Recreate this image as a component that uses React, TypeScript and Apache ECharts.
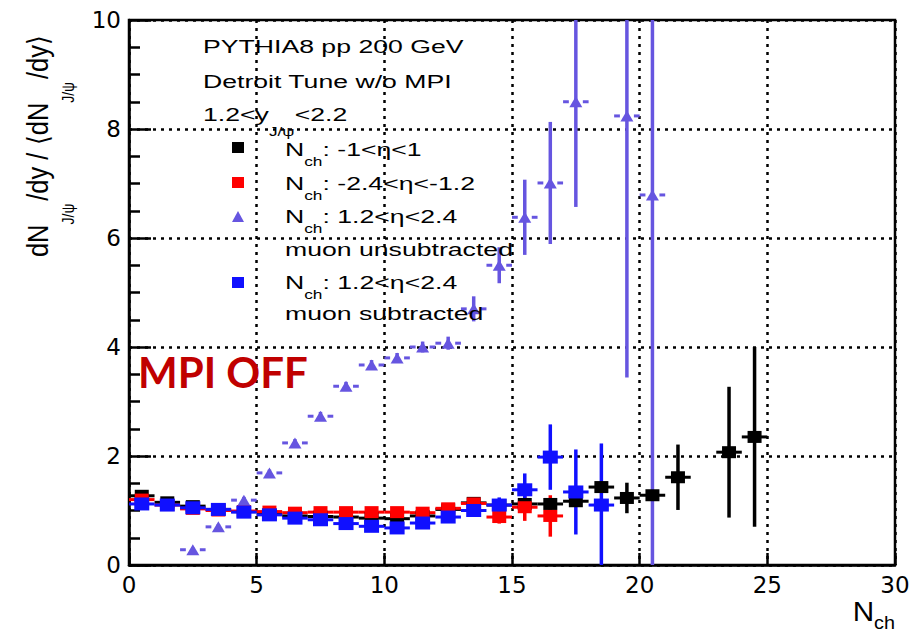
import React, { useEffect, useRef } from 'react';
import * as echarts from 'echarts';

// ---- Data ----
const blackNch = [0.5, 1.5, 2.5, 3.5, 4.5, 5.5, 6.5, 7.5, 8.5, 9.5, 10.5, 11.5, 12.5, 13.5, 14.5, 15.5, 16.5, 17.5, 18.5, 19.5, 20.5, 21.5, 23.5, 24.5];
const blackRatio = [1.27, 1.15, 1.08, 1.02, 0.98, 0.93, 0.9, 0.89, 0.88, 0.86, 0.85, 0.9, 1.02, 1.14, 1.1, 1.12, 1.12, 1.17, 1.43, 1.23, 1.28, 1.61, 2.07, 2.35];
const blackErr = [0.05, 0.04, 0.04, 0.04, 0.04, 0.04, 0.04, 0.04, 0.04, 0.04, 0.04, 0.05, 0.05, 0.06, 0.07, 0.09, 0.11, 0.1, 0.1, 0.28, 0.1, 0.6, 1.2, 1.65];

const redNch = [0.5, 1.5, 2.5, 3.5, 4.5, 5.5, 6.5, 7.5, 8.5, 9.5, 10.5, 11.5, 12.5, 13.5, 14.5, 15.5, 16.5];
const redRatio = [1.2, 1.1, 1.03, 1.0, 0.99, 0.98, 0.96, 0.97, 0.97, 0.97, 0.97, 0.96, 1.04, 1.13, 0.88, 1.06, 0.9];
const redErr = [0.04, 0.04, 0.04, 0.04, 0.04, 0.04, 0.04, 0.04, 0.04, 0.04, 0.04, 0.05, 0.05, 0.06, 0.12, 0.25, 0.38];

const triNch = [2.5, 3.5, 4.5, 5.5, 6.5, 7.5, 8.5, 9.5, 10.5, 11.5, 12.5, 13.5, 14.5, 15.5, 16.5, 17.5, 19.5, 20.5];
const triRatio = [0.28, 0.7, 1.19, 1.69, 2.24, 2.73, 3.28, 3.67, 3.8, 4.0, 4.07, 4.7, 5.5, 6.38, 7.01, 8.5, 8.24, 6.79];
const triErr = [0.04, 0.05, 0.06, 0.06, 0.07, 0.08, 0.08, 0.09, 0.09, 0.1, 0.12, 0.23, 0.33, 0.69, 1.12, 1.93, 4.8, 7.5];

const blueNch = [0.5, 1.5, 2.5, 3.5, 4.5, 5.5, 6.5, 7.5, 8.5, 9.5, 10.5, 11.5, 12.5, 13.5, 14.5, 15.5, 16.5, 17.5, 18.5];
const blueRatio = [1.12, 1.1, 1.05, 1.02, 0.97, 0.92, 0.86, 0.83, 0.76, 0.71, 0.68, 0.77, 0.88, 1.0, 1.1, 1.38, 1.98, 1.34, 1.1];
const blueErr = [0.04, 0.04, 0.04, 0.04, 0.04, 0.04, 0.04, 0.04, 0.04, 0.04, 0.04, 0.05, 0.05, 0.06, 0.14, 0.3, 0.6, 0.78, 1.13];

const xTicks = { min: 0, max: 30, interval: 5 };
const yTicks = { min: 0, max: 10, interval: 2 };

const BLACK = '#000000';
const RED = '#ff0000';
const TRI = '#6655e0';
const BLUE = '#1010ff';

const FONT = 'Liberation Sans, Arial, Helvetica, sans-serif';

function zip(x: number[], y: number[], e: number[]) {
  return x.map((v, i) => [v, y[i], e[i]]);
}

function errorSeries(name: string, data: number[][], color: string, gapPx: number) {
  return {
    name,
    type: 'custom',
    clip: true,
    silent: true,
    data,
    encode: { x: 0, y: 1 },
    renderItem: (params: any, api: any) => {
      const x = api.value(0);
      const y = api.value(1);
      const e = api.value(2);
      const c = api.coord([x, y]);
      const lo = api.coord([x, y - e]);
      const hi = api.coord([x, y + e]);
      const l = api.coord([x - 0.5, y]);
      const r = api.coord([x + 0.5, y]);
      const hs = { stroke: color, lineWidth: 3, fill: 'none' };
      const vs = { stroke: color, lineWidth: 3.5, fill: 'none' };
      const children: any[] = [
        { type: 'line', shape: { x1: c[0], y1: lo[1], x2: c[0], y2: hi[1] }, style: vs },
      ];
      if (gapPx > 0) {
        children.push({ type: 'line', shape: { x1: l[0], y1: c[1], x2: c[0] - gapPx, y2: c[1] }, style: hs });
        children.push({ type: 'line', shape: { x1: c[0] + gapPx, y1: c[1], x2: r[0], y2: c[1] }, style: hs });
      } else {
        children.push({ type: 'line', shape: { x1: l[0], y1: c[1], x2: r[0], y2: c[1] }, style: hs });
      }
      return { type: 'group', children };
    },
    z: 3,
  };
}

function markerSeries(name: string, data: number[][], color: string, symbol: string, size: number[]) {
  return {
    name,
    type: 'scatter',
    data: data.map((d) => [d[0], d[1]]),
    symbol,
    symbolSize: size,
    itemStyle: { color, opacity: 1 },
    silent: true,
    z: 4,
  };
}

const legendScale = 1.44;
const txt = { fontSize: 18.5, fontFamily: FONT, fill: '#000' };
const richLegend = {
  n: { fontSize: 18.5, fontFamily: FONT, color: '#000', lineHeight: 36 },
  s: { fontSize: 12, fontFamily: FONT, color: '#000', verticalAlign: 'bottom' },
};

function legendText(text: string, x: number, y: number, rich?: any) {
  return {
    type: 'text',
    x,
    y,
    scaleX: legendScale,
    z: 10,
    style: { ...txt, text, textAlign: 'left', textVerticalAlign: 'middle', rich },
  };
}

const option: any = {
  animation: false,
  grid: { left: 129, right: 19, top: 20, bottom: 70, show: true, borderColor: '#000', borderWidth: 2.5, containLabel: false },
  xAxis: {
    type: 'value',
    min: xTicks.min,
    max: xTicks.max,
    interval: xTicks.interval,
    axisLine: { show: true, lineStyle: { color: '#000', width: 2.5 } },
    axisTick: { show: true, inside: true, length: 12, lineStyle: { color: '#000', width: 2.5 } },
    axisLabel: { color: '#000', fontFamily: 'DejaVu Sans', fontSize: 23, margin: 8 },
    splitLine: { show: true, lineStyle: { color: '#000', width: 2.5, type: [3, 5] } },
  },
  yAxis: {
    type: 'value',
    min: yTicks.min,
    max: yTicks.max,
    interval: yTicks.interval,
    axisLine: { show: true, lineStyle: { color: '#000', width: 2.5 } },
    axisTick: { show: true, inside: true, length: 22, lineStyle: { color: '#000', width: 2.5 } },
    minorTick: { show: true, splitNumber: 4, length: 11, lineStyle: { color: '#000', width: 2.5 } },
    axisLabel: { color: '#000', fontFamily: 'DejaVu Sans', fontSize: 23, margin: 8 },
    splitLine: { show: true, lineStyle: { color: '#000', width: 2.5, type: [3, 5] } },
  },
  series: [
    errorSeries('black-err', zip(blackNch, blackRatio, blackErr), BLACK, 0),
    markerSeries('N_ch: -1<η<1', zip(blackNch, blackRatio, blackErr), BLACK, 'rect', [14, 12]),
    errorSeries('red-err', zip(redNch, redRatio, redErr), RED, 0),
    markerSeries('N_ch: -2.4<η<-1.2', zip(redNch, redRatio, redErr), RED, 'rect', [14, 12]),
    errorSeries('tri-err', zip(triNch, triRatio, triErr), TRI, 7),
    markerSeries('N_ch: 1.2<η<2.4 muon unsubtracted', zip(triNch, triRatio, triErr), TRI, 'triangle', [13, 11]),
    errorSeries('blue-err', zip(blueNch, blueRatio, blueErr), BLUE, 0),
    markerSeries('N_ch: 1.2<η<2.4 muon subtracted', zip(blueNch, blueRatio, blueErr), BLUE, 'rect', [15, 13]),
  ],
  graphic: [
    // y axis title
    {
      type: 'text',
      x: 38,
      y: 146,
      rotation: Math.PI / 2,
      scaleY: 1.15,
      z: 10,
      style: {
        text: '{n|dN}{s|J/ψ}{n|/dy / ⟨dN}{s|J/ψ}{n|/dy⟩}',
        textAlign: 'center',
        textVerticalAlign: 'middle',
        rich: {
          n: { fontSize: 25.5, fontFamily: FONT, color: '#000', lineHeight: 66 },
          s: { fontSize: 14, fontFamily: FONT, color: '#000', verticalAlign: 'bottom', padding: [0, 3, 0, 0] },
        },
      },
    },
    // x axis title
    {
      type: 'text',
      x: 895,
      y: 611,
      scaleX: 1.1,
      z: 10,
      style: {
        text: '{n|N}{s|ch}',
        textAlign: 'right',
        textVerticalAlign: 'middle',
        rich: {
          n: { fontSize: 27, fontFamily: FONT, color: '#000', lineHeight: 42 },
          s: { fontSize: 18, fontFamily: FONT, color: '#000', verticalAlign: 'bottom' },
        },
      },
    },
    legendText('PYTHIA8 pp 200 GeV', 203, 47),
    legendText('Detroit Tune w/o MPI', 203, 82),
    legendText('{n|1.2<y}{s|J/ψ}{n|<2.2}', 203, 115, {
      n: { fontSize: 18.5, fontFamily: FONT, color: '#000', lineHeight: 46 },
      s: { fontSize: 12, fontFamily: FONT, color: '#000', verticalAlign: 'bottom' },
    }),
    { type: 'rect', z: 10, shape: { x: 232, y: 142, width: 12, height: 11 }, style: { fill: BLACK } },
    legendText('{n|N}{s|ch}{n|: -1<η<1}', 285, 150, richLegend),
    { type: 'rect', z: 10, shape: { x: 232, y: 177, width: 12, height: 11 }, style: { fill: RED } },
    legendText('{n|N}{s|ch}{n|: -2.4<η<-1.2}', 285, 184, richLegend),
    { type: 'polygon', z: 10, shape: { points: [[232, 222], [244, 222], [238, 211]] }, style: { fill: TRI } },
    legendText('{n|N}{s|ch}{n|: 1.2<η<2.4}', 285, 217, richLegend),
    legendText('muon unsubtracted', 285, 250),
    { type: 'rect', z: 10, shape: { x: 232, y: 277, width: 12, height: 11 }, style: { fill: BLUE } },
    legendText('{n|N}{s|ch}{n|: 1.2<η<2.4}', 285, 283, richLegend),
    legendText('muon subtracted', 285, 314),
    // overlay annotation
    {
      type: 'text',
      x: 138,
      y: 372,
      z: 10,
      style: {
        text: 'MPI OFF',
        fontFamily: 'Lato, Open Sans, sans-serif',
        fontWeight: 'bold',
        fontSize: 42,
        fill: '#c00000',
        textAlign: 'left',
        textVerticalAlign: 'middle',
      },
    },
  ],
};

export default function App() {
  const ref = useRef<HTMLDivElement>(null);
  useEffect(() => {
    const chart = echarts.init(ref.current as HTMLDivElement, null, { renderer: 'svg' });
    chart.setOption(option);
    return () => chart.dispose();
  }, []);
  return <div ref={ref} style={{ position: 'fixed', left: 0, top: 0, width: 914, height: 635, background: '#fff' }} />;
}
